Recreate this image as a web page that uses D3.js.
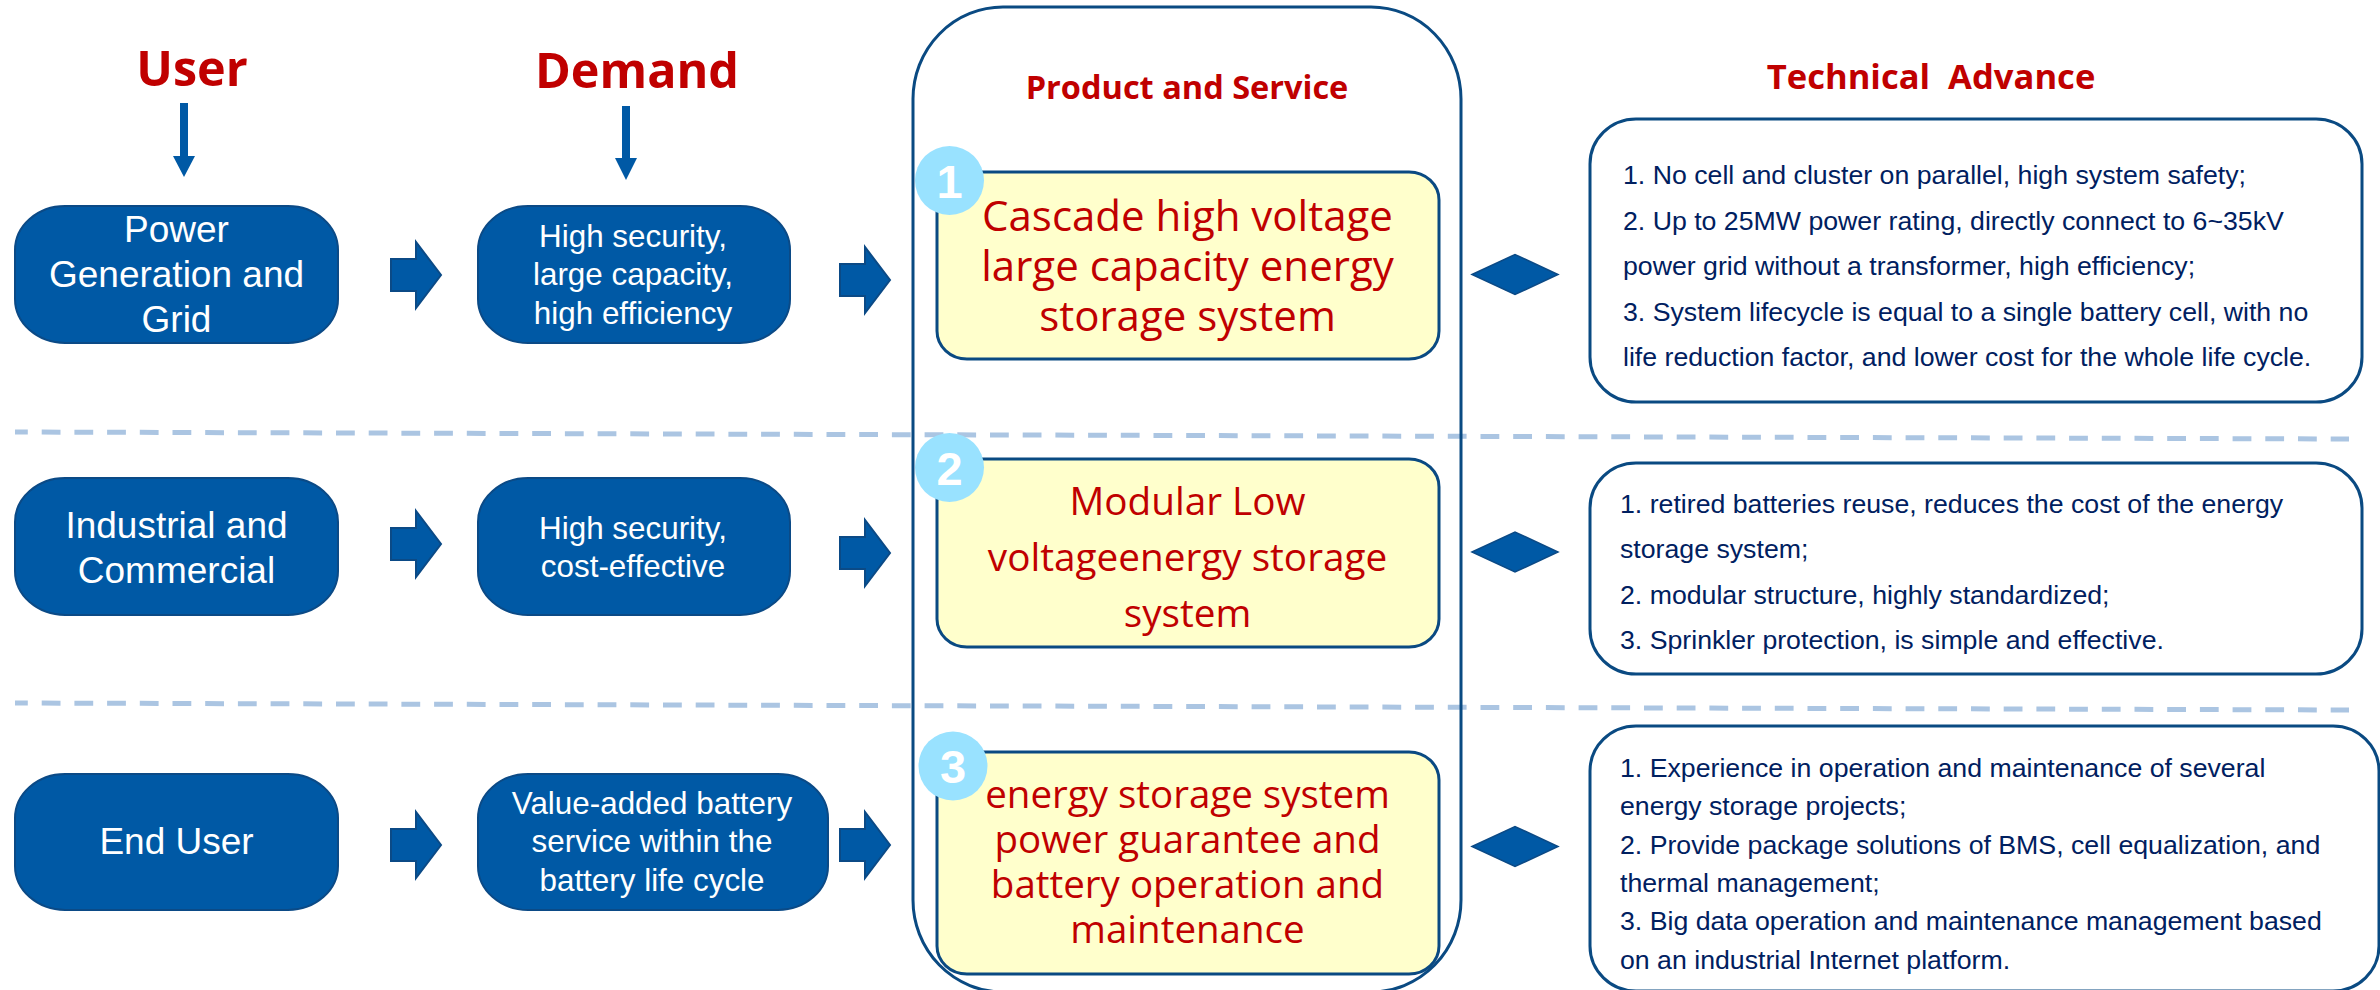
<!DOCTYPE html>
<html>
<head>
<meta charset="utf-8">
<script src="https://cdn.jsdelivr.net/npm/d3@7"></script>
<style>
  html, body { margin: 0; padding: 0; background: #fff; overflow: hidden; }
  svg { display: block; }
  text { white-space: pre; }
</style>
</head>
<body>
<svg id="chart" width="2380" height="990"></svg>
<script>
// chart content
var rows = ["grid", "commercial", "end"];
var columnTitles = ["User", "Demand", "Product and Service", "Technical  Advance"];
var userLabels = [
	["Power", "Generation and", "Grid"],
	["Industrial and", "Commercial"],
	["End User"]
];
var demandLabels = [
	["High security,", "large capacity,", "high efficiency"],
	["High security,", "cost-effective"],
	["Value-added battery", "service within the", "battery life cycle"]
];
var productLabels = [
	["Cascade high voltage", "large capacity energy", "storage system"],
	["Modular Low", "voltageenergy storage", "system"],
	["energy storage system", "power guarantee and", "battery operation and", "maintenance"]
];
var advanceLabels = [
	["1. No cell and cluster on parallel, high system safety;",
	 "2. Up to 25MW power rating, directly connect to 6~35kV",
	 "power grid without a transformer, high efficiency;",
	 "3. System lifecycle is equal to a single battery cell, with no",
	 "life reduction factor, and lower cost for the whole life cycle."],
	["1. retired batteries reuse, reduces the cost of the energy",
	 "storage system;",
	 "2. modular structure, highly standardized;",
	 "3. Sprinkler protection, is simple and effective."],
	["1. Experience in operation and maintenance of several",
	 "energy storage projects;",
	 "2. Provide package solutions of BMS, cell equalization, and",
	 "thermal management;",
	 "3. Big data operation and maintenance management based",
	 "on an industrial Internet platform."]
];

// colours
var blue = "#0059a5", blueEdge = "#0b4a86", red = "#c00000", navy = "#002060",
	frame = "#0a4a82", yellow = "#ffffcc", badge = "#99e2ff", dash = "#abc5e2";

// row based positions, one scale per thing that moves between the rows
function rowScale(range) { return d3.scaleOrdinal().domain(rows).range(range); }
var pillTop = rowScale([206, 478, 774]),
	pillBottom = rowScale([343, 615, 910]),
	demandRight = rowScale([790, 790, 828]),
	userArrowY = rowScale([275, 544, 845]),
	demandArrowY = rowScale([280, 553, 845]),
	productTop = rowScale([172, 459, 752]),
	productBottom = rowScale([359, 647, 974]),
	badgeX = rowScale([949.5, 949.5, 953]),
	badgeY = rowScale([180.5, 467.5, 766]),
	diamondY = rowScale([274.5, 552, 846.5]),
	advanceTop = rowScale([119, 463, 726]),
	advanceBottom = rowScale([402, 674, 991]),
	advanceRight = rowScale([2362, 2362, 2379]),
	advanceX = rowScale([1623, 1620, 1620]);

// first baseline and line step of each text block
var userBase = rowScale([242, 538, 854]),
	demandBase = rowScale([247, 539, 814]),
	demandCenter = rowScale([633, 633, 652]),
	productBase = rowScale([231, 515, 808]),
	productStep = rowScale([50, 56, 45]),
	productSize = rowScale([42, 38.7, 38.5]),
	advanceBase = rowScale([184, 513, 777]),
	advanceStep = rowScale([45.5, 45.4, 38.3]);

var svg = d3.select("#chart");

// dashed separators go under everything
var separators = [[[15, 432], [2349, 439]], [[15, 703], [2349, 710]]];
svg.append("g").selectAll("path")
	.data(separators)
	.join("path")
	.attr("d", d3.line())
	.attr("fill", "none")
	.attr("stroke", dash)
	.attr("stroke-width", 5)
	.attr("stroke-dasharray", "18.8 13.9")
	.attr("stroke-dashoffset", 6);

// big frame round the product column, runs off the bottom of the page
svg.append("rect")
	.attr("x", 913).attr("y", 7)
	.attr("width", 548).attr("height", 985)
	.attr("rx", 90).attr("ry", 92)
	.attr("fill", "none")
	.attr("stroke", frame)
	.attr("stroke-width", 3);

// column titles
var titleSpec = [
	{x: 192, y: 86, size: 48.5},
	{x: 637, y: 88, size: 48.5},
	{x: 1187, y: 99, size: 32.5},
	{x: 1931, y: 89, size: 34.6}
];
svg.append("g").selectAll("text")
	.data(columnTitles)
	.join("text")
	.attr("x", function(d, i) { return titleSpec[i].x; })
	.attr("y", function(d, i) { return titleSpec[i].y; })
	.attr("font-size", function(d, i) { return titleSpec[i].size; })
	.attr("font-family", "'Open Sans', sans-serif")
	.attr("font-weight", 700)
	.attr("text-anchor", "middle")
	.attr("fill", red)
	.text(function(d) { return d; });

// small arrows below User and Demand
var downArrows = [{x: 184, top: 103, head: 156, tip: 177}, {x: 626, top: 106, head: 158, tip: 180}];
svg.append("g").selectAll("path")
	.data(downArrows)
	.join("path")
	.attr("d", function(d) {
		return d3.line()([[d.x - 4, d.top], [d.x + 4, d.top], [d.x + 4, d.head], [d.x + 11, d.head],
			[d.x, d.tip], [d.x - 11, d.head], [d.x - 4, d.head]]) + "Z";
	})
	.attr("fill", blue);

function rightArrow(x, y) {
	return d3.line()([[x, y - 16], [x + 25, y - 16], [x + 25, y - 33], [x + 50, y],
		[x + 25, y + 33], [x + 25, y + 16], [x, y + 16]]) + "Z";
}

// draw lines of text, centred or left aligned, from a first baseline
function textBlock(g, lines, x, y, step, size, family, fill, anchor) {
	g.selectAll("text")
		.data(lines)
		.join("text")
		.attr("x", x)
		.attr("y", function(d, i) { return y + i * step; })
		.attr("font-size", size)
		.attr("font-family", family)
		.attr("fill", fill)
		.attr("text-anchor", anchor)
		.text(function(d) { return d; });
}

var sans = "'Liberation Sans', Arial, sans-serif",
	open = "'Open Sans', sans-serif";

var row = svg.append("g").selectAll("g")
	.data(rows)
	.join("g");

row.each(function(r, i) {
	var g = d3.select(this);

	// user pill
	g.append("rect")
		.attr("x", 15).attr("y", pillTop(r))
		.attr("width", 323).attr("height", pillBottom(r) - pillTop(r))
		.attr("rx", 50).attr("ry", 44)
		.attr("fill", blue).attr("stroke", blueEdge).attr("stroke-width", 2);
	textBlock(g.append("g"), userLabels[i], 176.5, userBase(r), 45, 37, sans, "#fff", "middle");

	// demand pill
	g.append("rect")
		.attr("x", 478).attr("y", pillTop(r))
		.attr("width", demandRight(r) - 478).attr("height", pillBottom(r) - pillTop(r))
		.attr("rx", 50).attr("ry", 44)
		.attr("fill", blue).attr("stroke", blueEdge).attr("stroke-width", 2);
	textBlock(g.append("g"), demandLabels[i], demandCenter(r), demandBase(r), 38.3, 31.4, sans, "#fff", "middle");

	// arrows between the columns
	g.append("path").attr("d", rightArrow(391, userArrowY(r)))
		.attr("fill", blue).attr("stroke", blueEdge).attr("stroke-width", 2);
	g.append("path").attr("d", rightArrow(840, demandArrowY(r)))
		.attr("fill", blue).attr("stroke", blueEdge).attr("stroke-width", 2);

	// product box
	g.append("rect")
		.attr("x", 937).attr("y", productTop(r))
		.attr("width", 502).attr("height", productBottom(r) - productTop(r))
		.attr("rx", 30).attr("ry", 28)
		.attr("fill", yellow).attr("stroke", frame).attr("stroke-width", 3);
	textBlock(g.append("g"), productLabels[i], 1187.5, productBase(r), productStep(r), productSize(r), open, red, "middle");

	// number badge
	g.append("circle")
		.attr("cx", badgeX(r)).attr("cy", badgeY(r)).attr("r", 34.5)
		.attr("fill", badge);
	g.append("text")
		.attr("x", badgeX(r)).attr("y", badgeY(r) + 17)
		.attr("font-size", 47)
		.attr("font-family", sans)
		.attr("font-weight", 700)
		.attr("text-anchor", "middle")
		.attr("fill", "#fff")
		.text(i + 1);

	// diamond
	var dy = diamondY(r);
	g.append("path")
		.attr("d", d3.line()([[1472, dy], [1515, dy - 20], [1558, dy], [1515, dy + 20]]) + "Z")
		.attr("fill", blue).attr("stroke", blueEdge).attr("stroke-width", 1.5);

	// technical advance box
	g.append("rect")
		.attr("x", 1590).attr("y", advanceTop(r))
		.attr("width", advanceRight(r) - 1590).attr("height", advanceBottom(r) - advanceTop(r))
		.attr("rx", 46).attr("ry", 45)
		.attr("fill", "#fff").attr("stroke", frame).attr("stroke-width", 3);
	textBlock(g.append("g"), advanceLabels[i], advanceX(r), advanceBase(r), advanceStep(r), 26.7, sans, navy, "start");
});
</script>
</body>
</html>
